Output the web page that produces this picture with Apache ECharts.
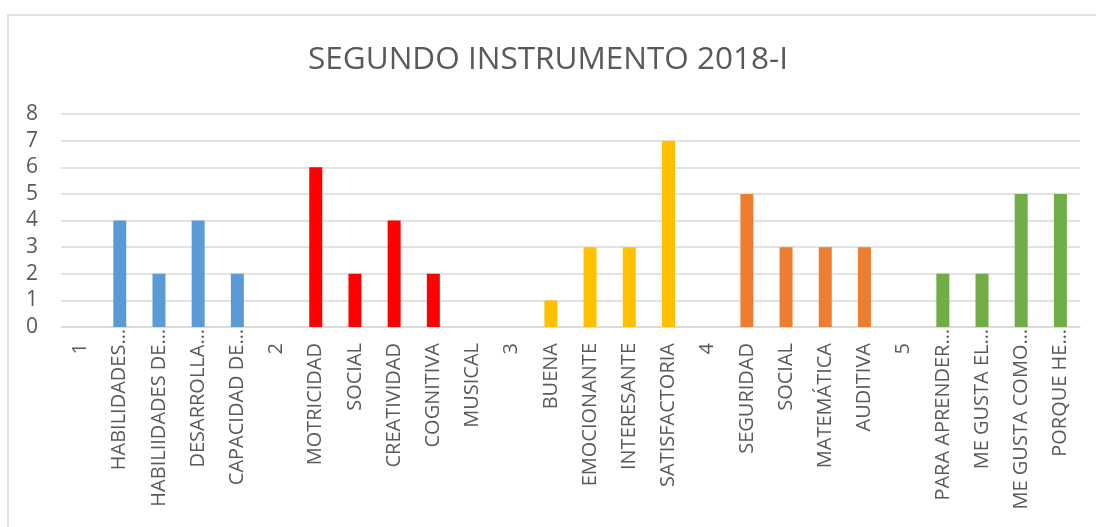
<!DOCTYPE html>
<html><head><meta charset="utf-8">
<script src="https://cdn.jsdelivr.net/npm/echarts@6/dist/echarts.min.js"></script>
<style>html,body{margin:0;padding:0;background:#fff}#c{width:1096px;height:527px}</style>
</head><body><div id="c"></div>
<script>
const categories = ["1","HABILIDADES…","HABILIIDADES DE…","DESARROLLA…","CAPACIDAD DE…","2","MOTRICIDAD","SOCIAL","CREATIVIDAD","COGNITIVA","MUSICAL","3","BUENA","EMOCIONANTE","INTERESANTE","SATISFACTORIA","4","SEGURIDAD","SOCIAL","MATEMÁTICA","AUDITIVA","5","PARA APRENDER…","ME GUSTA EL…","ME GUSTA COMO…","PORQUE HE…"];
const values = [0,4,2,4,2,0,6,2,4,2,0,0,1,3,3,7,0,5,3,3,3,0,2,2,5,5];
const groups = [0,0,0,0,0,1,1,1,1,1,1,2,2,2,2,2,3,3,3,3,3,4,4,4,4,4];
const groupColors = ["#5B9BD5","#FF0000","#FFC000","#ED7D31","#70AD47"];
const yTicks = [0,1,2,3,4,5,6,7,8];
const title = "SEGUNDO INSTRUMENTO 2018-I";

const axisData = categories.map(c => c.endsWith('…') ? {value:c} : {value:c, textStyle:{padding:[0,14,0,0]}});

const chart = echarts.init(document.getElementById('c'), null, {renderer:'canvas'});
chart.setOption({
  animation:false,
  backgroundColor:'#fff',
  title:{text:title,left:'center',top:39,textStyle:{fontFamily:'Open Sans',fontSize:31.5,fontWeight:'normal',color:'#595959'}},
  graphic:[{type:'rect',shape:{x:8,y:15,width:1200,height:700},style:{fill:'none',stroke:'#d9d9d9',lineWidth:1.5},silent:true}],
  grid:{left:61,right:16,top:114,bottom:200,containLabel:false,outerBoundsMode:'none'},
  xAxis:{type:'category',data:axisData,
    axisLine:{lineStyle:{color:'#d9d9d9',width:1.5}},axisTick:{show:false},
    axisLabel:{rotate:90,interval:0,fontFamily:'Open Sans',fontSize:20,color:'#595959',margin:2}},
  yAxis:{type:'value',min:yTicks[0],max:yTicks[yTicks.length-1],interval:1,
    axisLine:{show:false},axisTick:{show:false},
    splitLine:{lineStyle:{color:'#d9d9d9',width:1.5}},
    axisLabel:{fontFamily:'Open Sans',fontSize:21,color:'#595959',margin:23}},
  series:[{type:'bar',barWidth:13,
    data:values.map((v,i)=>({value:v,itemStyle:{color:groupColors[groups[i]]}}))}]
});
</script></body></html>
